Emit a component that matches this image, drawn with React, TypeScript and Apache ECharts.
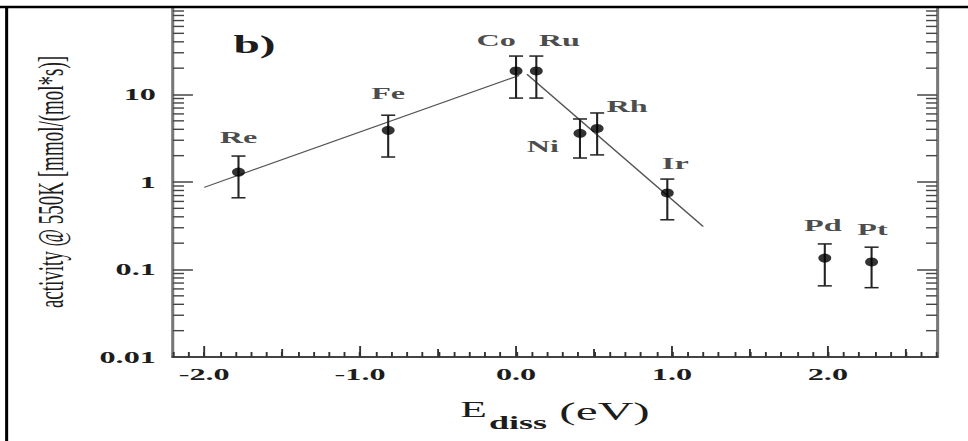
import React, { useEffect, useRef } from 'react';
import * as echarts from 'echarts';

// ---- data ----
const elements = ['Re', 'Fe', 'Co', 'Ru', 'Ni', 'Rh', 'Ir', 'Pd', 'Pt'];
const eDiss = [-1.78, -0.82, 0.0, 0.13, 0.41, 0.52, 0.97, 1.98, 2.28];
const activity = [1.3, 3.9, 18.6, 18.6, 3.6, 4.1, 0.75, 0.135, 0.122];
const errLow = [0.66, 1.93, 9.1, 9.1, 1.88, 2.04, 0.37, 0.065, 0.062];
const errHigh = [1.98, 5.8, 27.5, 27.5, 5.25, 6.15, 1.08, 0.196, 0.18];
const fitLeftX = [-2.0, 0.02];
const fitLeftY = [0.87, 16.5];
const fitRightX = [0.07, 1.2];
const fitRightY = [17, 0.31];
const xTickLabels = ['-2.0', '-1.0', '0.0', '1.0', '2.0'];
const yTickLabels = ['0.01', '0.1', '1', '10', ''];

const X_MIN = -2.2;
const X_MAX = 2.7;
const Y_MIN = 0.01;
const Y_MAX = 100;

// ---- layout (drawn at 510px wide, then stretched horizontally like the reference) ----
const W = 510;
const H = 441;
const SX = 968 / W;
const SERIF = '"Liberation Serif", "Times New Roman", serif';
const INK = '#1c1c1c';

const labelOffsets: Record<string, number[]> = {
  Re: [0, -35],
  Fe: [0, -37],
  Co: [-10.5, -31],
  Ru: [12.1, -31],
  Ni: [-19.5, 13],
  Rh: [15.8, -22],
  Ir: [4.2, -30],
  Pd: [-1, -33],
  Pt: [0.5, -33],
};

// tick positions (axis decoration)
const xMidTicks: number[][] = [];
for (let k = -4; k <= 5; k++) xMidTicks.push([k * 0.5, Y_MIN]);
const yMinorTicks: number[][] = [];
for (let d = -2; d <= 1; d++) for (let m = 2; m <= 9; m++) yMinorTicks.push([X_MIN, m * Math.pow(10, d)]);

function buildOption(): any {
  const points = elements.map((n, i) => ({
    name: n,
    value: [eDiss[i], activity[i]],
    label: { offset: labelOffsets[n] },
  }));
  const bars = elements.map((n, i) => [eDiss[i], errLow[i], errHigh[i]]);
  const yAxisBase = {
    type: 'log',
    logBase: 10,
    min: Y_MIN,
    max: Y_MAX,
    splitLine: { show: false },
    axisLine: { show: true, onZero: false, lineStyle: { color: '#777', width: 1.6 } },
    axisTick: { show: true, inside: true, length: 10.5, lineStyle: { color: '#444', width: 1.5 } },
  };
  return {
    animation: false,
    backgroundColor: '#ffffff',
    title: {
      text: 'b)',
      left: 118,
      top: 27,
      textStyle: { fontFamily: SERIF, fontWeight: 'bold', fontSize: 25, color: INK },
    },
    grid: { left: 91.15, right: 16.3, top: 7, bottom: 84, containLabel: false },
    xAxis: {
      type: 'value',
      min: X_MIN,
      max: X_MAX,
      interval: 0.1,
      splitLine: { show: false },
      axisLine: { show: true, onZero: false, lineStyle: { color: '#444', width: 2 } },
      axisTick: { show: true, inside: true, length: 5, lineStyle: { color: '#333', width: 1 } },
      axisLabel: {
        margin: 9,
        fontFamily: SERIF,
        fontWeight: 'bold',
        fontSize: 17,
        color: INK,
        formatter: (v: number) => {
          const r = Math.round(v);
          if (Math.abs(v - r) > 1e-6) return '';
          return xTickLabels[r + 2] ?? '';
        },
      },
      name: '{e|E}{d|diss}{p| (eV)}',
      nameLocation: 'middle',
      nameGap: 41,
      nameTextStyle: {
        color: INK,
        fontFamily: SERIF,
        rich: {
          e: { fontFamily: SERIF, fontSize: 23, color: INK, verticalAlign: 'top' },
          d: { fontFamily: SERIF, fontSize: 19, fontWeight: 'bold', color: INK, verticalAlign: 'top', padding: [15, 0, 0, 1] },
          p: { fontFamily: SERIF, fontSize: 26, color: INK, verticalAlign: 'top' },
        },
      },
    },
    yAxis: [
      {
        ...yAxisBase,
        position: 'left',
        axisLabel: {
          margin: 9,
          fontFamily: SERIF,
          fontWeight: 'bold',
          fontSize: 17,
          color: INK,
          formatter: (v: number) => yTickLabels[Math.round(Math.log10(v)) + 2] ?? '',
        },
        name: 'activity @ 550K [mmol/(mol*s)]',
        nameLocation: 'middle',
        nameGap: 55,
        nameTextStyle: { fontFamily: SERIF, fontSize: 19, color: INK },
      },
      {
        ...yAxisBase,
        position: 'right',
        axisLabel: { show: false },
      },
    ],
    graphic: [
      { type: 'line', z: 100, shape: { x1: 0, y1: 7, x2: W, y2: 7 }, style: { stroke: '#000', lineWidth: 2.5 } },
      { type: 'line', z: 100, shape: { x1: 3.5, y1: 6, x2: 3.5, y2: H }, style: { stroke: '#000', lineWidth: 1.6 } },
    ],
    series: [
      {
        type: 'custom',
        name: 'x ticks',
        silent: true,
        data: xMidTicks,
        encode: { x: 0, y: 1 },
        renderItem: (_p: any, api: any) => {
          const x = api.value(0);
          const p = api.coord([x, Y_MIN]);
          const major = Math.abs(x - Math.round(x)) < 1e-6;
          const len = major ? 11 : 8;
          return {
            type: 'line',
            shape: { x1: p[0], y1: p[1], x2: p[0], y2: p[1] - len },
            style: { stroke: '#333', lineWidth: 1 },
          };
        },
      },
      {
        type: 'custom',
        name: 'y minor ticks',
        silent: true,
        data: yMinorTicks,
        encode: { x: 0, y: 1 },
        renderItem: (_p: any, api: any) => {
          const v = api.value(1);
          const pl = api.coord([X_MIN, v]);
          const pr = api.coord([X_MAX, v]);
          return {
            type: 'group',
            children: [
              { type: 'line', shape: { x1: pl[0], y1: pl[1], x2: pl[0] + 5.8, y2: pl[1] }, style: { stroke: '#444', lineWidth: 1.4 } },
              { type: 'line', shape: { x1: pr[0], y1: pr[1], x2: pr[0] - 5.8, y2: pr[1] }, style: { stroke: '#444', lineWidth: 1.4 } },
            ],
          };
        },
      },
      {
        type: 'line',
        name: 'fit left',
        data: fitLeftX.map((x, i) => [x, fitLeftY[i]]),
        showSymbol: false,
        symbol: 'none',
        lineStyle: { color: '#555', width: 1 },
        z: 2,
      },
      {
        type: 'line',
        name: 'fit right',
        data: fitRightX.map((x, i) => [x, fitRightY[i]]),
        showSymbol: false,
        symbol: 'none',
        lineStyle: { color: '#555', width: 1 },
        z: 2,
      },
      {
        type: 'custom',
        name: 'error bars',
        data: bars,
        encode: { x: 0, y: [1, 2] },
        z: 3,
        renderItem: (_p: any, api: any) => {
          const x = api.value(0);
          const lo = api.coord([x, api.value(1)]);
          const hi = api.coord([x, api.value(2)]);
          const hw = 3.7;
          return {
            type: 'group',
            children: [
              { type: 'line', shape: { x1: lo[0], y1: lo[1], x2: hi[0], y2: hi[1] }, style: { stroke: '#222', lineWidth: 1.1 } },
              { type: 'line', shape: { x1: lo[0] - hw, y1: lo[1], x2: lo[0] + hw, y2: lo[1] }, style: { stroke: '#222', lineWidth: 1.5 } },
              { type: 'line', shape: { x1: hi[0] - hw, y1: hi[1], x2: hi[0] + hw, y2: hi[1] }, style: { stroke: '#222', lineWidth: 1.5 } },
            ],
          };
        },
      },
      {
        type: 'scatter',
        name: 'activity',
        data: points,
        symbol: 'circle',
        symbolSize: [6.8, 9],
        itemStyle: { color: '#000' },
        z: 4,
        label: {
          show: true,
          position: 'inside',
          formatter: '{b}',
          fontFamily: SERIF,
          fontWeight: 'bold',
          fontSize: 17,
          color: INK,
        },
      },
    ],
  };
}

export default function App() {
  const ref = useRef<HTMLDivElement>(null);
  useEffect(() => {
    if (!ref.current) return;
    const chart = echarts.init(ref.current, null, { renderer: 'svg' });
    chart.setOption(buildOption());
    return () => chart.dispose();
  }, []);
  return (
    <div
      ref={ref}
      style={{
        position: 'absolute',
        left: 0,
        top: 0,
        width: W,
        height: H,
        transform: `scaleX(${SX})`,
        transformOrigin: '0 0',
        background: '#fff',
      }}
    />
  );
}
